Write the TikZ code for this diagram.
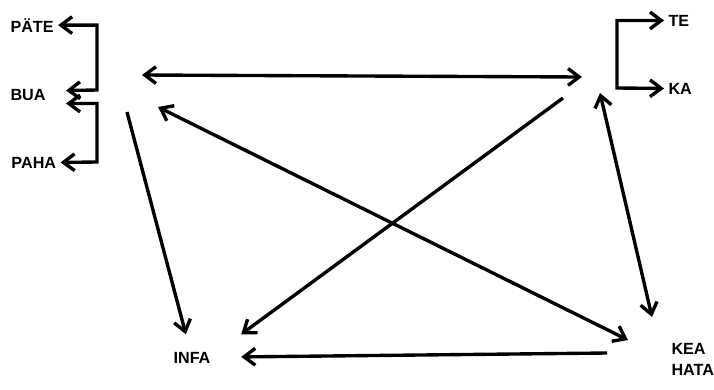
\documentclass[tikz,border=0pt]{standalone}
\usepackage{fontspec}
\setmainfont{Liberation Sans}
\usetikzlibrary{arrows.meta}
\tikzset{
  >={Straight Barb[length=2.8mm,width=4.2mm]},
  lbl/.style={inner sep=2pt,font=\fontsize{11.5}{15}\selectfont\bfseries},
  every picture/.style={line width=2.4pt},
}

\begin{document}
\begin{tikzpicture}[x=0.025cm,y=-0.025cm]
\useasboundingbox (0,0) rectangle (714,389);
% labels
\node[lbl,anchor=base west] (pate) at (6,32){PÄTE};
\node[lbl,anchor=base west] (bua) at (6,100){BUA};
\node[lbl,anchor=base west] (paha) at (7,168){PAHA};
\node[lbl,anchor=base west] (te) at (664,26){TE};
\node[lbl,anchor=base west] (ka) at (664,94){KA};
\node[lbl,anchor=base,outer xsep=7mm,outer ysep=3.7mm] (infa) at (192,363){INFA};
\node[lbl,align=left,anchor=north west] (keahata) at (667,339){KEA\\HATA};
% arrow ends
\coordinate (tl1) at (142,75);
\coordinate (tl2) at (158,107);
\coordinate (tl3) at (127,112);
\coordinate (tr1) at (582,77);
\coordinate (tr2) at (563,98);
\coordinate (tr3) at (600,93);
\coordinate (kh1) at (628,340);
\coordinate (kh2) at (652,317);
\coordinate (kh3) at (607,353);
% brackets
\draw[<->] (pate.east) -| (97,90) -- ([shift={(16,-4)}]bua.east);
\draw[<->] ([shift={(16,9)}]bua.east) -| (97,162) -- (paha.east);
\draw[<->] (te.west) -| (617,88) -- (ka.west);
% main arrows
\draw[<->] (tl1) -- (tr1);
\draw[<->] (tl2) -- (kh1);
\draw[<->] (tr3) -- (kh2);
\draw[->] (tl3) -- (infa);
\draw[->] (tr2) -- (infa.north east);
\draw[->] (kh3) -- (infa);
\end{tikzpicture}
\end{document}
